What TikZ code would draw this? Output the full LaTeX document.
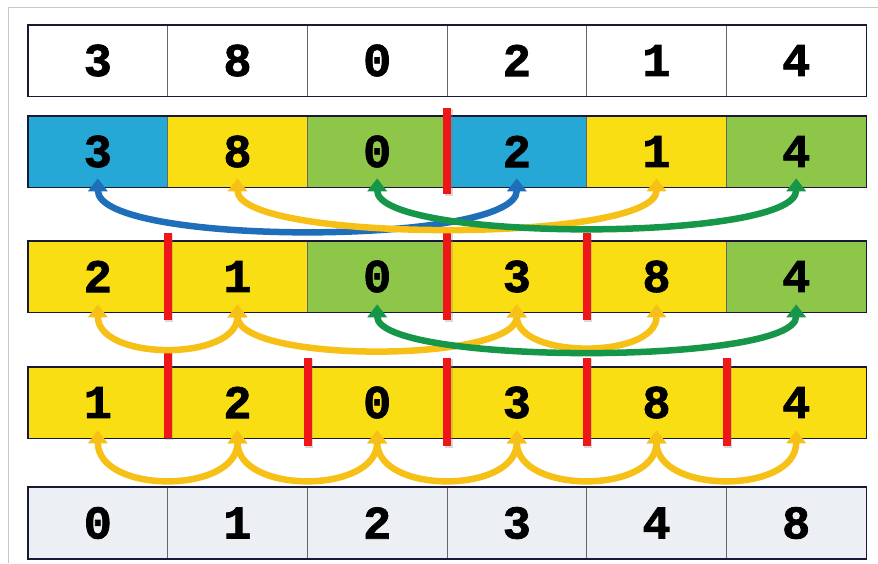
\documentclass[tikz,border=0pt]{standalone}
\usepackage{fontspec}
\newfontfamily\digitfont{Liberation Mono}[FakeBold=1.5]
\usetikzlibrary{arrows.meta,shadows}

\definecolor{cellblue}{RGB}{38,168,214}
\definecolor{cellyellow}{RGB}{250,222,20}
\definecolor{cellgreen}{RGB}{141,198,72}
\definecolor{cellgray}{RGB}{236,240,244}
\definecolor{arrblue}{RGB}{30,110,185}
\definecolor{arryellow}{RGB}{246,192,22}
\definecolor{arrgreen}{RGB}{22,150,72}
\definecolor{cutred}{RGB}{238,22,22}
\definecolor{rowline}{RGB}{25,25,55}

\tikzset{
  cell/.style={draw=black!60, line width=0.6pt, minimum width=139.67pt,
    minimum height=71pt, inner sep=0pt,
    font=\digitfont\bfseries\fontsize{47}{47}\selectfont},
  rowframe/.style={draw=rowline, line width=1.6pt},
  xchg/.style={line width=6.5pt,
    {Triangle[width=19pt,length=13pt]}-{Triangle[width=19pt,length=13pt]}},
  cutbar/.style={fill=cutred, drop shadow={shadow xshift=1.5pt,
    shadow yshift=-1.5pt, opacity=0.3}}
}

% red split marker on the right edge of a cell
\newcommand{\cutmark}[3]{%
  \fill[cutbar] ([xshift=-4pt,yshift=#2]#1.north east) rectangle
    ([xshift=4pt,yshift=-#3]#1.south east);}

\begin{document}
\begin{tikzpicture}[x=1pt,y=-1pt]
\useasboundingbox (0,0) rectangle (878,563);

% Dimensions
\def\X{28}     % left edge of the rows
\def\cw{139.67} % cell width

% frame
\draw[gray!45, line width=0.8pt] (8,563) -- (8,7) -- (878,7);

% Row 1: input
\foreach \v [count=\i] in {3,8,0,2,1,4}
  \node[cell, fill=white] (a\i) at ({\X+\cw*(\i-0.5)},60.5) {\v};
\draw[rowframe] (a1.north west) rectangle (a6.south east);

% Row 2: first pass
\foreach \v/\c [count=\i] in {3/cellblue,8/cellyellow,0/cellgreen,2/cellblue,1/cellyellow,4/cellgreen}
  \node[cell, fill=\c] (b\i) at ({\X+\cw*(\i-0.5)},151.5) {\v};
\draw[rowframe] (b1.north west) rectangle (b6.south east);

% Row 3: second pass
\foreach \v/\c [count=\i] in {2/cellyellow,1/cellyellow,0/cellgreen,3/cellyellow,8/cellyellow,4/cellgreen}
  \node[cell, fill=\c] (c\i) at ({\X+\cw*(\i-0.5)},276.5) {\v};
\draw[rowframe] (c1.north west) rectangle (c6.south east);

% Row 4: third pass
\foreach \v [count=\i] in {1,2,0,3,8,4}
  \node[cell, fill=cellyellow] (d\i) at ({\X+\cw*(\i-0.5)},402.5) {\v};
\draw[rowframe] (d1.north west) rectangle (d6.south east);

% Row 5: sorted
\foreach \v [count=\i] in {0,1,2,3,4,8}
  \node[cell, fill=cellgray] (e\i) at ({\X+\cw*(\i-0.5)},523) {\v};
\draw[rowframe] (e1.north west) rectangle (e6.south east);

% split marks
\cutmark{b3}{8pt}{7pt}
\foreach \n in {c1,c3,c4} {\cutmark{\n}{8pt}{8pt}}
\cutmark{d1}{15pt}{0pt}
\foreach \n in {d2,d3,d4,d5} {\cutmark{\n}{9pt}{8pt}}

% swaps under row 2
\draw[xchg, arrblue] ([yshift=9pt]b1.south) .. controls +(0,68) and +(0,68) .. ([yshift=9pt]b4.south);
\draw[xchg, arryellow] ([yshift=9pt]b2.south) .. controls +(0,65) and +(0,65) .. ([yshift=9pt]b5.south);
\draw[xchg, arrgreen] ([yshift=9pt]b3.south) .. controls +(0,64) and +(0,64) .. ([yshift=9pt]b6.south);

% swaps under row 3
\draw[xchg, arryellow] ([yshift=8pt]c1.south) .. controls +(0,57) and +(0,57) .. ([yshift=8pt]c2.south);
\draw[xchg, arryellow] ([yshift=8pt]c2.south) .. controls +(0,59) and +(0,59) .. ([yshift=8pt]c4.south);
\draw[xchg, arryellow] ([yshift=8pt]c4.south) .. controls +(0,55) and +(0,55) .. ([yshift=8pt]c5.south);
\draw[xchg, arrgreen] ([yshift=8pt]c3.south) .. controls +(0,61) and +(0,61) .. ([yshift=8pt]c6.south);

% swaps under row 4
\foreach \i [evaluate=\i as \j using int(\i+1)] in {1,...,5}
  \draw[xchg, arryellow] ([yshift=8pt]d\i.south) .. controls +(0,64) and +(0,64) .. ([yshift=8pt]d\j.south);
\end{tikzpicture}
\end{document}
